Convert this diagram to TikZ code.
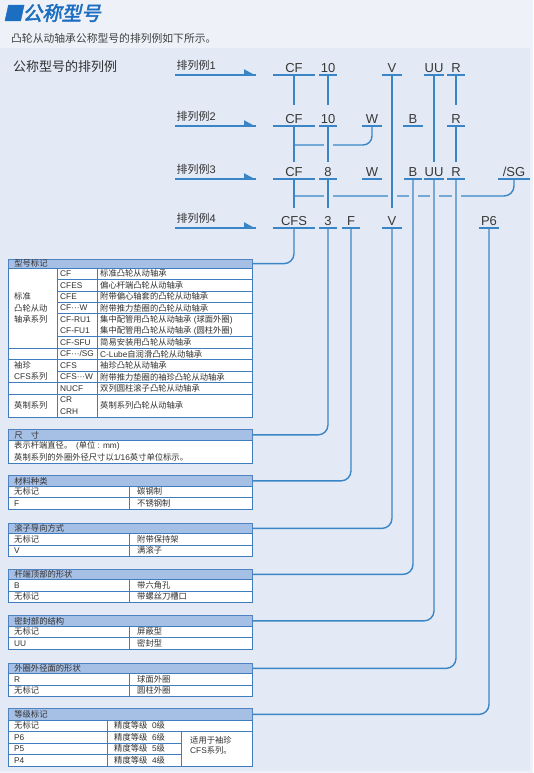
\documentclass[tikz,border=0pt]{standalone}
\usepackage{fontspec}
\setmainfont{Noto Sans CJK SC}
\newfontfamily\latf{Liberation Sans}
\newfontfamily\titlef[FakeBold=2.5,FakeSlant=0.22]{Noto Sans CJK SC}
\definecolor{bgtop}{HTML}{EEF1F8}
\definecolor{bgpanel}{HTML}{E3EAF6}
\definecolor{lnblue}{HTML}{3A85C6}
\definecolor{tblue}{HTML}{3F7DBE}
\definecolor{hdrfill}{HTML}{A6BFE5}
\definecolor{hdrline}{HTML}{4F82C0}
\definecolor{titleblue}{HTML}{1C6EC1}
\definecolor{txt}{HTML}{303030}
\definecolor{codecol}{HTML}{383838}
\newcommand\fs[1]{\fontsize{#1}{#1}\selectfont}
\newcommand\La[1]{{\latf #1}}
\tikzset{
  conn/.style={draw=lnblue, line width=1.4pt},
  gapline/.style={draw=bgpanel, line width=3.2pt},
  code/.style={anchor=south, inner xsep=0pt, inner ysep=2.5pt, text height=9.5pt, text depth=0pt, font=\latf\fs{13}, text=codecol},
  lbl/.style={anchor=west, inner sep=0pt, font=\fs{11}, text=txt},
  hdr/.style={draw=hdrline, line width=0.8pt, fill=hdrfill, anchor=north west, minimum width=244pt, inner xsep=6pt, inner ysep=0pt, text width=232pt, align=left, font=\fs{8.3}, text=txt},
  tbody/.style={draw=tblue, line width=1pt, fill=white},
  tline/.style={draw=tblue, line width=0.7pt},
  ct/.style={anchor=west, inner sep=0pt, font=\fs{8.3}, text=txt},
  cl/.style={ct, font=\latf\fs{8.3}},
}
\newcommand\code[5]{\node[code, minimum width=#4pt] (#1) at (#2,#3) {#5};
  \draw[conn] (#1.south west) -- (#1.south east);}
\newcommand\ctx[4]{\node[ct] (#1) at (#2,#3) {#4};}
\newcommand\clx[4]{\node[cl] (#1) at (#2,#3) {#4};}
\newcommand\twotab[7]{%
  \node[hdr, minimum height=11pt] (#1) at (8,#2) {#3};
  \draw[tbody] (8,#2+11) rectangle (252,#2+34);
  \draw[tline] (129.5,#2+11) -- (129.5,#2+34);
  \draw[tline] (8,#2+22.5) -- (252,#2+22.5);
  \ctx{#1a}{14}{#2+16.75}{#4}
  \ctx{#1b}{137}{#2+16.75}{#5}
  \ctx{#1c}{14}{#2+28.25}{#6}
  \ctx{#1d}{137}{#2+28.25}{#7}}
\newcommand\rowarrow[3]{%
  \node[lbl] (l#1) at (176.5,#2) {排列例\La{#3}};
  \coordinate (as#1) at (175,#2+10);
  \coordinate (ae#1) at (256,#2+10);
  \draw[conn] (as#1) -- (ae#1);
  \fill[lnblue] ([yshift=-0.7pt]ae#1) -- ++(-12,0) -- ++(0,-6.5) -- cycle;}
\begin{document}
\begin{tikzpicture}[x=1pt,y=-1pt]
\useasboundingbox (0,0) rectangle (533,773);
\fill[bgtop] (0,0) rectangle (533,773);
\fill[bgpanel] (0,48) rectangle (530,771);

% title
\node[anchor=west, inner sep=0pt, font=\titlef\fs{19.5}, text=titleblue] (title) at (3,13) {■公称型号};
\node[anchor=west, inner sep=0pt, font=\fs{10.8}, text=black!75] (sub) at (11,38.5) {凸轮从动轴承公称型号的排列例如下所示。};
\node[anchor=west, inner sep=0pt, font=\fs{13}, text=txt] (head) at (13,66.5) {公称型号的排列例};

% example rows
\rowarrow{1}{65}{1}
\rowarrow{2}{116}{2}
\rowarrow{3}{169}{3}
\rowarrow{4}{218}{4}

\coordinate (j2) at (294,145);
\coordinate (j3) at (294,196);

% codes
\code{r1cf}{294}{75}{41}{CF}
\code{r1ten}{328}{75}{18}{10}
\code{r1v}{392}{75}{19}{V}
\code{r1uu}{434}{75}{19}{UU}
\code{r1r}{456}{75}{18}{R}

\code{r2cf}{294}{126}{41}{CF}
\code{r2ten}{328}{126}{18}{10}
\code{r2w}{372}{126}{19}{W}
\code{r2b}{413}{126}{19}{B}
\code{r2r}{456}{126}{18}{R}

\code{r3cf}{294}{179}{41}{CF}
\code{r3eight}{328}{179}{18}{8}
\code{r3w}{372}{179}{19}{W}
\code{r3b}{413}{179}{18}{B}
\code{r3uu}{434}{179}{18}{UU}
\code{r3r}{456}{179}{18}{R}
\code{r3sg}{514}{179}{31}{/SG}

\code{r4cfs}{294}{228}{41}{CFS}
\code{r4three}{328}{228}{18}{3}
\code{r4f}{351}{228}{18}{F}
\code{r4v}{392}{228}{19}{V}
\code{r4p6}{489}{228}{20}{P6}

% join lines with gaps
\draw[conn, rounded corners=9pt] (r2w.south) |- (j2);
\draw[conn, rounded corners=10pt] (r3sg.south) |- (j3);
\foreach \n in {r2ten}{\coordinate (g) at (\n.south |- j2); \draw[gapline] ([xshift=-4.5pt]g) -- ([xshift=4.5pt]g);}
\foreach \n in {r3eight,r1v,r3b,r3uu,r3r}{\coordinate (g) at (\n.south |- j3); \draw[gapline] ([xshift=-4.5pt]g) -- ([xshift=4.5pt]g);}

% verticals between rows
\draw[conn, shorten >=6.5pt] (r1cf.south) -- (r2cf.north);
\draw[conn, shorten >=2.5pt] (r2cf.south) -- (r3cf.north);
\draw[conn, shorten >=5pt] (r3cf.south) -- (r4cfs.north);
\draw[conn, shorten >=6.5pt] (r1ten.south) -- (r2ten.north);
\draw[conn, shorten >=2.5pt] (r2ten.south) -- (r3eight.north);
\draw[conn, shorten >=5pt] (r3eight.south) -- (r4three.north);
\draw[conn, shorten >=5pt] (r1v.south) -- (r4v.north);
\draw[conn, shorten >=2.5pt] (r1uu.south) -- (r3uu.north);
\draw[conn, shorten >=6.5pt] (r1r.south) -- (r2r.north);
\draw[conn, shorten >=2.5pt] (r2r.south) -- (r3r.north);

% ===== tables =====
% 型号标记
\node[hdr, minimum height=9.5pt] (h1) at (8,258.5) {型号标记};
\draw[tbody] (8,268) rectangle (252,417);
\draw[tline] (57.5,268) -- (57.5,417);
\draw[tline] (97.5,268) -- (97.5,417);
\foreach \yy in {279.46,290.92,302.38,313.84,336.76,371.14}{\draw[tline] (57.5,\yy) -- (252,\yy);}
\foreach \yy in {348.22,359.68,382.6,394.06}{\draw[tline] (8,\yy) -- (252,\yy);}
\ctx{k1}{14}{296.65}{标准}
\ctx{k2}{14}{308.11}{凸轮从动}
\ctx{k3}{14}{319.57}{轴承系列}
\ctx{k4}{14}{365.41}{袖珍}
\ctx{k5}{14}{376.87}{\La{CFS}系列}
\ctx{k6}{14}{405.52}{英制系列}
\clx{m1}{60}{273.73}{CF}
\clx{m2}{60}{285.19}{CFES}
\clx{m3}{60}{296.65}{CFE}
\clx{m4}{60}{308.11}{CF···W}
\clx{m5}{60}{319.57}{CF-RU1}
\clx{m6}{60}{331.03}{CF-FU1}
\clx{m7}{60}{342.49}{CF-SFU}
\clx{m8}{60}{353.95}{CF···/SG}
\clx{m9}{60}{365.41}{CFS}
\clx{m10}{60}{376.87}{CFS···W}
\clx{m11}{60}{388.33}{NUCF}
\clx{m12}{60}{399.79}{CR}
\clx{m13}{60}{411.25}{CRH}
\ctx{d1}{100}{273.73}{标准凸轮从动轴承}
\ctx{d2}{100}{285.19}{偏心杆端凸轮从动轴承}
\ctx{d3}{100}{296.65}{附带偏心轴套的凸轮从动轴承}
\ctx{d4}{100}{308.11}{附带推力垫圈的凸轮从动轴承}
\ctx{d5}{100}{319.57}{集中配管用凸轮从动轴承\La{ (}球面外圈\La{)}}
\ctx{d6}{100}{331.03}{集中配管用凸轮从动轴承\La{ (}圆柱外圈\La{)}}
\ctx{d7}{100}{342.49}{简易安装用凸轮从动轴承}
\ctx{d8}{100}{353.95}{\La{C-Lube}自润滑凸轮从动轴承}
\ctx{d9}{100}{365.41}{袖珍凸轮从动轴承}
\ctx{d10}{100}{376.87}{附带推力垫圈的袖珍凸轮从动轴承}
\ctx{d11}{100}{388.33}{双列圆柱滚子凸轮从动轴承}
\ctx{d12}{100}{405.52}{英制系列凸轮从动轴承}

% 尺寸
\node[hdr, minimum height=11pt] (h2) at (8,429) {尺\quad 寸};
\draw[tbody] (8,440) rectangle (252,463.5);
\ctx{s1}{14}{446}{表示杆端直径。\ \ \La{(}单位\La{ : mm)}}
\ctx{s2}{14}{457}{英制系列的外圈外径尺寸以\La{1/16}英寸单位标示。}

\twotab{h3}{475}{材料种类}{无标记}{碳钢制}{\La{F}}{不锈钢制}
\twotab{h4}{522.5}{滚子导向方式}{无标记}{附带保持架}{\La{V}}{满滚子}
\twotab{h5}{568.5}{杆端顶部的形状}{\La{B}}{带六角孔}{无标记}{带螺丝刀槽口}
\twotab{h6}{615}{密封部的结构}{无标记}{屏蔽型}{\La{UU}}{密封型}
\twotab{h7}{662.5}{外圈外径面的形状}{\La{R}}{球面外圈}{无标记}{圆柱外圈}

% 等级标记
\node[hdr, minimum height=12pt] (h8) at (8,708) {等级标记};
\draw[tbody] (8,720) rectangle (252,766);
\draw[tline] (107.5,720) -- (107.5,766);
\draw[tline] (181.5,731.5) -- (181.5,766);
\draw[tline] (8,731.5) -- (252,731.5);
\draw[tline] (8,743) -- (181.5,743);
\draw[tline] (8,754.5) -- (181.5,754.5);
\ctx{p1}{14}{725.75}{无标记}
\clx{p2}{14}{737.25}{P6}
\clx{p3}{14}{748.75}{P5}
\clx{p4}{14}{760.25}{P4}
\ctx{q1}{114}{725.75}{精度等级\La{\ \ 0}级}
\ctx{q2}{114}{737.25}{精度等级\La{\ \ 6}级}
\ctx{q3}{114}{748.75}{精度等级\La{\ \ 5}级}
\ctx{q4}{114}{760.25}{精度等级\La{\ \ 4}级}
\node[ct, align=left, font=\fontsize{8.3}{10}\selectfont] (q5) at (190,745) {适用于袖珍\\\La{CFS}系列。};

% connectors to tables
\draw[conn, rounded corners=10pt] (r4cfs.south) |- (h1.east);
\draw[conn, rounded corners=10pt] (r4three.south) |- (h2.east);
\draw[conn, rounded corners=10pt] (r4f.south) |- (h3.east);
\draw[conn, rounded corners=10pt] (r4v.south) |- (h4.east);
\draw[conn, rounded corners=10pt] (r3b.south) |- (h5.east);
\draw[conn, rounded corners=10pt] (r3uu.south) |- (h6.east);
\draw[conn, rounded corners=10pt] (r3r.south) |- (h7.east);
\draw[conn, rounded corners=10pt] (r4p6.south) |- (h8.east);
\end{tikzpicture}
\end{document}
